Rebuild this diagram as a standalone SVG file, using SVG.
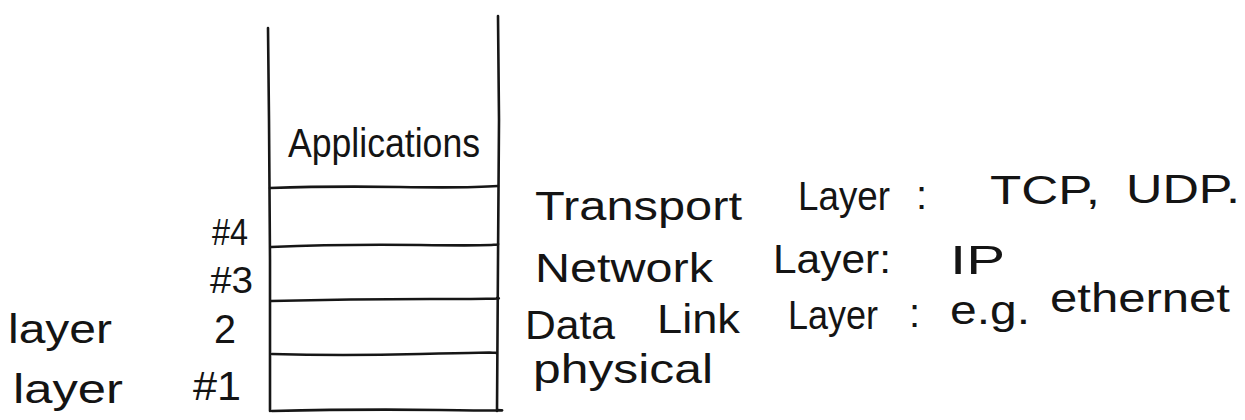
<svg xmlns="http://www.w3.org/2000/svg" width="1245" height="420" viewBox="0 0 1245 420">
  <style>
    .ink { fill: none; stroke: #161616; stroke-width: 2.6; stroke-linecap: round; stroke-linejoin: round; }
    .hand { font-family: "Liberation Sans", "DejaVu Sans", sans-serif; fill: #141414; }
    .big { font-size: 40px; }
    .mid { font-size: 36px; }
  </style>
  <rect width="1245" height="420" fill="#ffffff"/>

  <!-- protocol stack: outer walls and layer dividers -->
  <g id="stack">
    <path class="ink" d="M268 28 L269 120 L270 260 L270 411"/>
    <path class="ink" d="M498 16 L499 120 L498 260 L497 411"/>
    <path class="ink" d="M270 188 Q330 186 400 187 T498 186"/>
    <path class="ink" d="M271 247 Q340 244 420 245 T498 244"/>
    <path class="ink" d="M271 301 Q350 299 430 299 T497 298"/>
    <path class="ink" d="M272 354 Q340 356 420 354 T496 353"/>
    <path class="ink" d="M272 411 Q360 409 440 410 T497 410"/>
  </g>

  <!-- top layer label -->
  <g id="applications">
    <text class="hand big" x="288" y="157" textLength="192" lengthAdjust="spacingAndGlyphs">Applications</text>
  </g>

  <!-- layer numbers on the left of the stack -->
  <g id="layer4">
    <text class="hand mid" x="212" y="245" textLength="36" lengthAdjust="spacingAndGlyphs">#4</text>
  </g>
  <g id="layer3">
    <text class="hand mid" x="210" y="293" textLength="43" lengthAdjust="spacingAndGlyphs">#3</text>
  </g>
  <g id="layer2">
    <text class="hand big" x="8" y="343" textLength="104" lengthAdjust="spacingAndGlyphs">layer</text>
    <text class="hand big" x="214" y="343" textLength="22" lengthAdjust="spacingAndGlyphs">2</text>
  </g>
  <g id="layer1">
    <text class="hand big" x="13" y="403" textLength="110" lengthAdjust="spacingAndGlyphs">layer</text>
    <text class="hand big" x="193" y="400" textLength="48" lengthAdjust="spacingAndGlyphs">#1</text>
  </g>

  <!-- protocol notes to the right -->
  <g id="transport">
    <text class="hand big" x="535" y="220" textLength="207" lengthAdjust="spacingAndGlyphs">Transport</text>
    <text class="hand big" x="798" y="210" textLength="92" lengthAdjust="spacingAndGlyphs">Layer</text>
    <text class="hand big" x="916" y="209">:</text>
    <text class="hand big" x="990" y="204" textLength="110" lengthAdjust="spacingAndGlyphs">TCP,</text>
    <text class="hand big" x="1126" y="203" textLength="114" lengthAdjust="spacingAndGlyphs">UDP.</text>
  </g>
  <g id="network">
    <text class="hand big" x="535" y="282" textLength="178" lengthAdjust="spacingAndGlyphs">Network</text>
    <text class="hand big" x="773" y="273" textLength="118" lengthAdjust="spacingAndGlyphs">Layer:</text>
    <text class="hand big" x="950" y="274" textLength="55" lengthAdjust="spacingAndGlyphs">IP</text>
  </g>
  <g id="datalink">
    <text class="hand big" x="525" y="339" textLength="90" lengthAdjust="spacingAndGlyphs">Data</text>
    <text class="hand big" x="657" y="333" textLength="83" lengthAdjust="spacingAndGlyphs">Link</text>
    <text class="hand big" x="788" y="329" textLength="90" lengthAdjust="spacingAndGlyphs">Layer</text>
    <text class="hand big" x="909" y="327">:</text>
    <text class="hand big" x="950" y="324" textLength="80" lengthAdjust="spacingAndGlyphs">e.g.</text>
    <text class="hand big" x="1050" y="312" textLength="180" lengthAdjust="spacingAndGlyphs">ethernet</text>
  </g>
  <g id="physical">
    <text class="hand big" x="533" y="383" textLength="180" lengthAdjust="spacingAndGlyphs">physical</text>
  </g>
</svg>
